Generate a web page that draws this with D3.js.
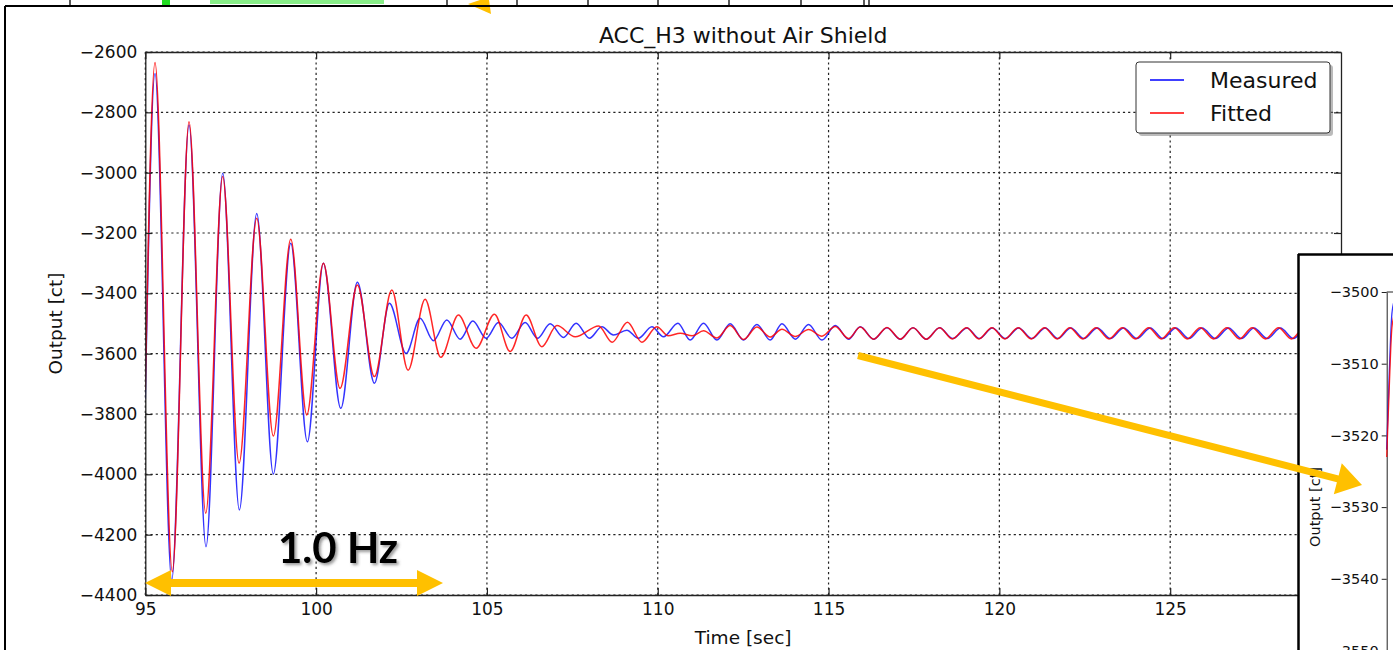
<!DOCTYPE html>
<html>
<head>
<meta charset="utf-8">
<script src="https://cdn.jsdelivr.net/npm/d3@7"></script>
<style>
  html, body { margin: 0; padding: 0; background: #fff; }
  svg { display: block; font-family: "DejaVu Sans", sans-serif; }
</style>
</head>
<body>
<svg id="chart" width="1393" height="650"></svg>
<script>
// ---------------- data ----------------
const chartTitle = "ACC_H3 without Air Shield";
const xLabel = "Time [sec]";
const yLabel = "Output [ct]";
const seriesNames = ["Measured", "Fitted"];
const xTicks = [95, 100, 105, 110, 115, 120, 125];
const yTicks = [-2600, -2800, -3000, -3200, -3400, -3600, -3800, -4000, -4200, -4400];
const insetYTicks = [-3500, -3510, -3520, -3530, -3540, -3550];

// Measured (blue): extrema of the oscillation, time [sec]
const measuredTime = [95.0, 95.284, 95.773, 96.28, 96.777, 97.266, 97.753, 98.262, 98.748, 99.258, 99.744,
  100.212, 100.722, 101.208, 101.706, 102.145, 102.634, 103.044, 103.433, 103.826, 104.215, 104.587, 104.977,
  105.337, 105.729, 106.119, 106.479, 106.851, 107.24, 107.612, 108.001, 108.364, 108.704, 109.097, 109.436,
  109.829, 110.168, 110.59, 110.95, 111.34, 111.732, 112.121, 112.511, 112.903, 113.293, 113.636, 114.025,
  114.414, 114.807, 115.196, 115.586, 115.928, 116.318, 116.71, 117.1, 117.472, 117.86, 118.25, 118.637,
  119.053, 119.413, 119.794, 120.174, 120.564, 120.95, 121.345, 121.711, 122.092, 122.473, 122.868, 123.249,
  123.638, 124.025, 124.42, 124.786, 125.167, 125.548, 125.934, 126.324, 126.713, 127.085, 127.451, 127.846,
  128.227, 128.607, 128.988, 129.37, 129.75, 130.0];
const measuredValue = [-3750, -2671, -4350, -2842, -4240, -3002, -4118, -3135, -3999, -3234, -3892,
  -3300, -3781, -3363, -3698, -3433, -3599, -3483, -3557, -3488, -3552, -3492, -3549,
  -3497, -3549, -3497, -3549, -3501, -3546, -3499, -3549, -3511, -3538, -3522, -3549,
  -3511, -3544, -3499, -3555, -3499, -3555, -3501, -3555, -3503, -3555, -3501, -3552,
  -3503, -3555, -3507, -3552, -3511, -3552, -3514, -3552, -3514, -3552, -3514, -3550,
  -3515, -3550, -3515, -3550, -3515, -3550, -3515, -3550, -3515, -3550, -3515, -3550,
  -3515, -3550, -3515, -3550, -3515, -3550, -3515, -3550, -3515, -3550, -3515, -3550,
  -3515, -3550, -3515, -3550, -3515, -3535];

// Fitted (red)
const fittedTime = [95.0, 95.284, 95.791, 96.28, 96.769, 97.266, 97.744, 98.262, 98.748, 99.258, 99.726,
  100.212, 100.701, 101.208, 101.706, 102.215, 102.692, 103.19, 103.65, 104.165, 104.684, 105.22, 105.68,
  106.148, 106.608, 107.047, 107.583, 108.27, 108.666, 109.114, 109.536, 109.975, 110.306, 110.66, 111.01,
  111.34, 111.732, 112.121, 112.511, 112.903, 113.293, 113.636, 114.025, 114.414, 114.807, 115.196, 115.586,
  115.928, 116.318, 116.71, 117.1, 117.472, 117.86, 118.25, 118.62, 119.04, 119.40, 119.78, 120.16, 120.55,
  120.93, 121.32, 121.69, 122.06, 122.44, 122.83, 123.21, 123.60, 123.98, 124.37, 124.74, 125.12, 125.50,
  125.88, 126.27, 126.66, 127.03, 127.40, 127.79, 128.17, 128.55, 128.93, 129.31, 129.69, 130.0];
const fittedValue = [-3720, -2635, -4323, -2831, -4129, -3013, -3963, -3151, -3873, -3221, -3803,
  -3300, -3715, -3372, -3676, -3389, -3655, -3420, -3612, -3472, -3582, -3469, -3593,
  -3472, -3577, -3507, -3544, -3508, -3562, -3496, -3562, -3511, -3541, -3532, -3541,
  -3524, -3548, -3507, -3553, -3512, -3545, -3519, -3543, -3520, -3542, -3510, -3550,
  -3512, -3552, -3513, -3552, -3514, -3552, -3514, -3551, -3514, -3551, -3514, -3551, -3514,
  -3551, -3514, -3551, -3514, -3551, -3514, -3551, -3514, -3551, -3514, -3551, -3514, -3551,
  -3514, -3551, -3514, -3551, -3514, -3551, -3514, -3551, -3514, -3551, -3514, -3540];

// Inset (zoomed view, only its left edge is visible)
const insetTime = [115.0, 115.06, 115.13, 115.2];
const insetMeasured = [-3522, -3512, -3503, -3501];
const insetFitted = [-3523, -3514, -3505, -3503];

const annotationText = "1.0 Hz";

// ---------------- drawing ----------------
const svg = d3.select("#chart");
const W = 1393, H = 650;
const P = { left: 145.3, right: 1341, top: 52, bottom: 595 };
const fmt = d3.format("d");

const defs = svg.append("defs");
defs.append("clipPath").attr("id", "plotClip").append("rect")
  .attr("x", P.left).attr("y", P.top).attr("width", P.right - P.left).attr("height", P.bottom - P.top);
const sh = defs.append("filter").attr("id", "txtShadow").attr("x", "-20%").attr("y", "-20%").attr("width", "140%").attr("height", "140%");
sh.append("feDropShadow").attr("dx", 2).attr("dy", 2).attr("stdDeviation", 1.5)
  .attr("flood-color", "#444").attr("flood-opacity", 0.55);

svg.append("rect").attr("width", W).attr("height", H).attr("fill", "#fff");

// --- strip of the slide above (another figure's axis) ---
const strip = svg.append("g");
strip.append("rect").attr("x", 162).attr("y", 0).attr("width", 8).attr("height", 5).attr("fill", "#22dd22");
strip.append("rect").attr("x", 210).attr("y", 0).attr("width", 174).attr("height", 4).attr("fill", "#88ee88");
[70, 447, 517, 588, 658, 729, 801, 864, 869].forEach(xx => {
  strip.append("line").attr("x1", xx).attr("x2", xx).attr("y1", 0).attr("y2", 6)
    .attr("stroke", "#000").attr("stroke-width", 1.3);
});
strip.append("polygon").attr("points", "468,4 480,0 489,0 491,14").attr("fill", "#FFC000");
// slide frame
svg.append("line").attr("x1", 5).attr("x2", W).attr("y1", 6).attr("y2", 6).attr("stroke", "#000").attr("stroke-width", 2);
svg.append("line").attr("x1", 5).attr("x2", 5).attr("y1", 6).attr("y2", H).attr("stroke", "#000").attr("stroke-width", 2);

// --- scales ---
const x = d3.scaleLinear().domain([95, 130]).range([P.left, P.right]);
const y = d3.scaleLinear().domain([-4400, -2600]).range([P.bottom, P.top]);

// grid
const grid = svg.append("g").attr("stroke", "#222").attr("stroke-width", 1.2).attr("stroke-dasharray", "2.2,3");
xTicks.forEach(t => grid.append("line").attr("x1", x(t)).attr("x2", x(t)).attr("y1", P.top).attr("y2", P.bottom));
yTicks.forEach(t => grid.append("line").attr("x1", P.left).attr("x2", P.right).attr("y1", y(t)).attr("y2", y(t)));

// curves
const line = d3.line().x(d => x(d[0])).y(d => y(d[1])).curve(d3.curveMonotoneX);
const curves = svg.append("g").attr("clip-path", "url(#plotClip)");
curves.append("path").datum(measuredTime.map((t, i) => [t, measuredValue[i]]))
  .attr("d", line).attr("fill", "none").attr("stroke", "#0000ff").attr("stroke-width", 1.5).attr("stroke-opacity", 0.8);
curves.append("path").datum(fittedTime.map((t, i) => [t, fittedValue[i]]))
  .attr("d", line).attr("fill", "none").attr("stroke", "#ff0000").attr("stroke-width", 1.5).attr("stroke-opacity", 0.85);

// axes (matplotlib classic: ticks inward on all sides)
const tickFont = 17;
const ax = svg.append("g").attr("font-family", "DejaVu Sans");
const gB = ax.append("g").attr("transform", `translate(0,${P.bottom})`)
  .call(d3.axisBottom(x).tickValues(xTicks).tickFormat(fmt).tickSizeInner(-7).tickSizeOuter(0).tickPadding(8));
const gT = ax.append("g").attr("transform", `translate(0,${P.top})`)
  .call(d3.axisTop(x).tickValues(xTicks).tickSizeInner(-7).tickSizeOuter(0).tickFormat(""));
const gL = ax.append("g").attr("transform", `translate(${P.left},0)`)
  .call(d3.axisLeft(y).tickValues(yTicks).tickFormat(fmt).tickSizeInner(-7).tickSizeOuter(0).tickPadding(8));
const gR = ax.append("g").attr("transform", `translate(${P.right},0)`)
  .call(d3.axisRight(y).tickValues(yTicks).tickSizeInner(-7).tickSizeOuter(0).tickFormat(""));
[gB, gT, gL, gR].forEach(g => {
  g.select(".domain").attr("stroke", "#222").attr("stroke-width", 1.3);
  g.selectAll(".tick line").attr("stroke", "#222").attr("stroke-width", 1.2);
  g.selectAll(".tick text").attr("font-size", tickFont).attr("fill", "#111").attr("font-family", "DejaVu Sans");
});

// titles
svg.append("text").attr("x", (P.left + P.right) / 2).attr("y", 43).attr("text-anchor", "middle")
  .attr("font-size", 22).attr("fill", "#111").text(chartTitle);
svg.append("text").attr("x", (P.left + P.right) / 2).attr("y", 644).attr("text-anchor", "middle")
  .attr("font-size", 18.5).attr("fill", "#111").text(xLabel);
svg.append("text").attr("transform", `translate(62,${(P.top + P.bottom) / 2}) rotate(-90)`).attr("text-anchor", "middle")
  .attr("font-size", 18.5).attr("fill", "#111").text(yLabel);

// legend
const lg = svg.append("g").attr("transform", "translate(1136,62)");
lg.append("rect").attr("x", 3).attr("y", 3).attr("width", 194).attr("height", 71).attr("rx", 3)
  .attr("fill", "#777").attr("opacity", 0.5);
lg.append("rect").attr("x", 0).attr("y", 0).attr("width", 194).attr("height", 71).attr("rx", 3)
  .attr("fill", "#fff").attr("stroke", "#333").attr("stroke-width", 1);
const legColors = ["#0000ff", "#ff0000"];
seriesNames.forEach((n, i) => {
  const yy = 18 + i * 33;
  lg.append("line").attr("x1", 14).attr("x2", 48).attr("y1", yy).attr("y2", yy)
    .attr("stroke", legColors[i]).attr("stroke-width", 1.4);
  lg.append("text").attr("x", 74).attr("y", yy + 8).attr("font-size", 22).attr("fill", "#111").text(n);
});

// --- orange double arrow + annotation ---
function arrowPoly(x0, y0, x1, y1, shaft, headLen, headW, doubleHead) {
  const dx = x1 - x0, dy = y1 - y0, L = Math.hypot(dx, dy);
  const ux = dx / L, uy = dy / L, nx = -uy, ny = ux;
  const p = (a, b) => [x0 + ux * a + nx * b, y0 + uy * a + ny * b];
  const pts = [];
  if (doubleHead) {
    pts.push(p(0, 0), p(headLen, -headW / 2), p(headLen, -shaft / 2));
  } else {
    pts.push(p(0, -shaft / 2));
  }
  pts.push(p(L - headLen, -shaft / 2), p(L - headLen, -headW / 2), p(L, 0), p(L - headLen, headW / 2), p(L - headLen, shaft / 2));
  if (doubleHead) {
    pts.push(p(headLen, shaft / 2), p(headLen, headW / 2));
  } else {
    pts.push(p(0, shaft / 2));
  }
  return pts.map(q => q.join(",")).join(" ");
}
svg.append("polygon").attr("points", arrowPoly(145, 583, 443, 583, 8, 26, 26, true)).attr("fill", "#FFC000");
svg.append("text").attr("x", 278).attr("y", 563).attr("font-family", "Lato, 'Open Sans', sans-serif")
  .attr("font-weight", "bold").attr("font-size", 42).attr("fill", "#000").attr("filter", "url(#txtShadow)")
  .text(annotationText);

// --- inset panel (partially visible zoom plot) ---
const inset = svg.append("g");
inset.append("rect").attr("x", 1298).attr("y", 254).attr("width", W - 1298).attr("height", H - 254).attr("fill", "#fff");
inset.append("line").attr("x1", 1298).attr("x2", W).attr("y1", 254.5).attr("y2", 254.5).attr("stroke", "#000").attr("stroke-width", 2.5);
inset.append("line").attr("x1", 1298.5).attr("x2", 1298.5).attr("y1", 254).attr("y2", H).attr("stroke", "#000").attr("stroke-width", 2.5);
const ix = d3.scaleLinear().domain([115, 130]).range([1386.7, 1986.7]);
const iy = d3.scaleLinear().domain([-3550, -3500]).range([650.5, 292]);
const gi = inset.append("g").attr("transform", "translate(1386.7,0)")
  .call(d3.axisLeft(iy).tickValues(insetYTicks).tickFormat(fmt).tickSizeInner(5).tickSizeOuter(0).tickPadding(3));
gi.select(".domain").attr("stroke", "#222").attr("stroke-width", 1);
gi.selectAll(".tick line").attr("stroke", "#222");
gi.selectAll(".tick text").attr("font-size", 14.5).attr("fill", "#111").attr("font-family", "DejaVu Sans");
inset.append("line").attr("x1", 1386.7).attr("x2", W).attr("y1", 292).attr("y2", 292).attr("stroke", "#222").attr("stroke-width", 1);
inset.append("text").attr("transform", "translate(1320,507) rotate(-90)").attr("text-anchor", "middle")
  .attr("font-size", 14.5).attr("fill", "#111").text(yLabel);
const iline = d3.line().x(d => ix(d[0])).y(d => iy(d[1])).curve(d3.curveMonotoneX);
inset.append("path").datum(insetTime.map((t, i) => [t, insetMeasured[i]])).attr("d", iline)
  .attr("fill", "none").attr("stroke", "#0000ff").attr("stroke-width", 1.3).attr("stroke-opacity", 0.8);
inset.append("path").datum(insetTime.map((t, i) => [t, insetFitted[i]])).attr("d", iline)
  .attr("fill", "none").attr("stroke", "#ff0000").attr("stroke-width", 1.3).attr("stroke-opacity", 0.85);

// --- orange pointer arrow to the inset ---
svg.append("polygon").attr("points", arrowPoly(858, 355.5, 1362, 485, 7, 25, 32, false)).attr("fill", "#FFC000");
</script>
</body>
</html>
